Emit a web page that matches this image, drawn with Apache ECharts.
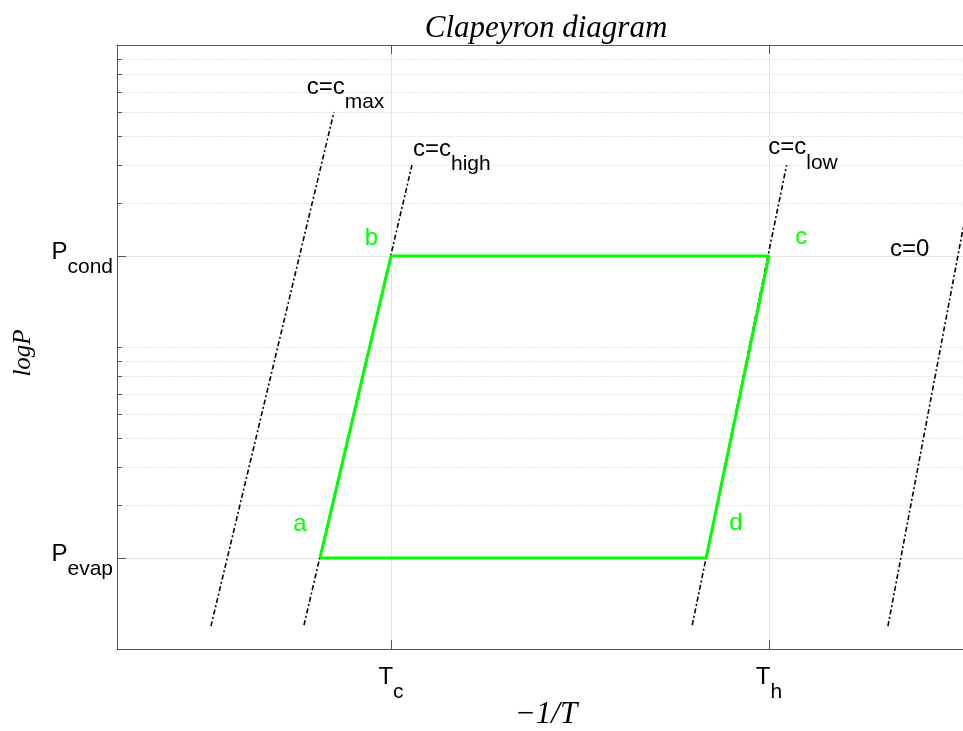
<!DOCTYPE html>
<html>
<head>
<meta charset="utf-8">
<script src="https://cdn.jsdelivr.net/npm/echarts@6/dist/echarts.min.js"></script>
<style>
html,body{margin:0;padding:0;background:#fff;}
#chart{width:963px;height:731px;}
</style>
</head>
<body>
<div id="chart"></div>
<script>
// ---- data ----
const xRange = [0, 9.85];
const yRange = [1, 100];
const xTickValues = [3.19, 7.59];
const xTickLabels = [['T', 'c'], ['T', 'h']];
const yTickValues = [2, 20];
const yTickLabels = [['P', 'evap'], ['P', 'cond']];
const minorGridValues = [3, 4, 5, 6, 7, 8, 9, 10, 30, 40, 50, 60, 70, 80, 90];

const cycleX = [2.363, 3.19, 7.59, 6.859, 2.363];
const cycleY = [2, 20, 20, 2, 2];

const cMaxX = [1.094, 2.526];   const cMaxY = [1.19, 60];
const cHighX = [2.177, 3.434];  const cHighY = [1.20, 40];
const cLowX = [6.698, 7.796];   const cLowY = [1.20, 40];
const cZeroX = [8.976, 9.99];   const cZeroY = [1.19, 40];

const curveLabelText = [['c=c', 'max'], ['c=c', 'high'], ['c=c', 'low'], ['c=0', '']];
const curveLabelX = [2.208, 3.446, 7.582, 8.999];
const curveLabelY = [79.6, 49.6, 50.2, 23.13];

const pointNames = ['a', 'b', 'c', 'd'];
const pointLabelX = [2.130, 2.963, 7.968, 7.206];
const pointLabelY = [2.594, 22.96, 23.13, 2.604];

// ---- styles ----
const SANS = 'Liberation Sans, Arial, sans-serif';
const SERIF = 'Liberation Serif, Times New Roman, serif';
const richSub = {
  b: { fontSize: 24, fontFamily: SANS, color: '#000', lineHeight: 28, verticalAlign: 'top' },
  s: { fontSize: 21, fontFamily: SANS, color: '#000', lineHeight: 38, verticalAlign: 'bottom' }
};
const richSubZr = {
  b: { fontSize: 24, fontFamily: SANS, fill: '#000', lineHeight: 28, verticalAlign: 'top' },
  s: { fontSize: 21, fontFamily: SANS, fill: '#000', lineHeight: 38, verticalAlign: 'bottom' }
};
const zip = (xs, ys) => xs.map((x, i) => [x, ys[i]]);
const dashDot = { color: '#000', width: 1.6, type: [5, 2.5, 2, 2.5] };

function lineSeries(xs, ys, style, z) {
  return {
    type: 'line', data: zip(xs, ys), symbol: 'none', silent: true,
    lineStyle: style, z: z, animation: false
  };
}

const chart = echarts.init(document.getElementById('chart'), null, { renderer: 'canvas' });

const option = {
  backgroundColor: '#fff',
  animation: false,
  grid: { left: 117, top: 45, right: 0, height: 604, containLabel: false },
  xAxis: [
    {
      type: 'value', min: xRange[0], max: xRange[1], position: 'bottom',
      axisLine: { show: true, lineStyle: { color: '#555', width: 1 } },
      axisTick: { show: true, inside: true, length: 9, customValues: xTickValues, lineStyle: { color: '#555' } },
      axisLabel: {
        show: true, customValues: xTickValues, margin: 16,
        formatter: (v) => {
          let i = -1;
          xTickValues.forEach((t, k) => { if (Math.abs(t - v) < 1e-6) i = k; });
          const t = i >= 0 ? xTickLabels[i] : ['', ''];
          return '{b|' + t[0] + '}{s|' + t[1] + '}';
        },
        rich: richSub
      },
      splitLine: { show: true, lineStyle: { color: '#e3e3e3', width: 1 } }
    },
    {
      type: 'value', min: xRange[0], max: xRange[1], position: 'top',
      axisLine: { show: true, lineStyle: { color: '#555', width: 1 } },
      axisTick: { show: true, inside: true, length: 9, customValues: xTickValues, lineStyle: { color: '#555' } },
      axisLabel: { show: false },
      splitLine: { show: false }
    }
  ],
  yAxis: [
    {
      type: 'log', logBase: 10, min: yRange[0], max: yRange[1], position: 'left',
      axisLine: { show: true, lineStyle: { color: '#555', width: 1 } },
      axisTick: { show: true, inside: true, length: 9, customValues: yTickValues, lineStyle: { color: '#555' } },
      axisLabel: {
        show: true, customValues: yTickValues, margin: 4, padding: [6, 0, 0, 0],
        formatter: (v) => {
          let i = -1;
          yTickValues.forEach((t, k) => { if (Math.abs(t - v) < 1e-6 * t) i = k; });
          const t = i >= 0 ? yTickLabels[i] : ['', ''];
          return '{b|' + t[0] + '}{s|' + t[1] + '}';
        },
        rich: richSub
      },
      splitLine: { show: true, lineStyle: { color: '#e3e3e3', width: 1 } }
    },
    {
      type: 'log', logBase: 10, min: yRange[0], max: yRange[1], position: 'left',
      axisLine: { show: false },
      axisTick: { show: true, inside: true, length: 5, customValues: minorGridValues, lineStyle: { color: '#555' } },
      axisLabel: { show: false },
      splitLine: { show: true, lineStyle: { color: '#e6e6e6', width: 1, type: [2, 1] } }
    }
  ],
  graphic: [
    { type: 'text', x: 546, y: 29, style: { text: 'Clapeyron diagram', font: 'italic 31px ' + SERIF, fill: '#000', textAlign: 'center', textVerticalAlign: 'middle' } },
    { type: 'text', x: 546, y: 715, style: { text: '\u22121/T', font: 'italic 31px ' + SERIF, fill: '#000', textAlign: 'center', textVerticalAlign: 'middle' } },
    { type: 'text', x: 23, y: 353, rotation: Math.PI / 2, style: { text: 'logP', font: 'italic 25px ' + SERIF, fill: '#000', textAlign: 'center', textVerticalAlign: 'middle' } }
  ],
  series: [
    lineSeries(cMaxX, cMaxY, dashDot, 2),
    lineSeries(cHighX, cHighY, dashDot, 2),
    lineSeries(cLowX, cLowY, dashDot, 2),
    lineSeries(cZeroX, cZeroY, dashDot, 2),
    lineSeries(cycleX, cycleY, { color: '#00ff00', width: 3 }, 3),
    {
      type: 'custom', coordinateSystem: 'cartesian2d', silent: true, z: 4,
      data: zip(curveLabelX, curveLabelY),
      renderItem: (params, api) => {
        const p = api.coord([api.value(0), api.value(1)]);
        const t = curveLabelText[params.dataIndex];
        return {
          type: 'text', x: p[0], y: p[1],
          style: {
            text: '{b|' + t[0] + '}' + (t[1] ? '{s|' + t[1] + '}' : ''),
            rich: richSubZr, fill: '#000', align: 'left', verticalAlign: 'top'
          }
        };
      }
    },
    {
      type: 'custom', coordinateSystem: 'cartesian2d', silent: true, z: 4,
      data: zip(pointLabelX, pointLabelY),
      renderItem: (params, api) => {
        const p = api.coord([api.value(0), api.value(1)]);
        return {
          type: 'text', x: p[0], y: p[1],
          style: {
            text: pointNames[params.dataIndex], fill: '#00ff00',
            fontSize: 24, fontFamily: SANS, align: 'center', verticalAlign: 'middle'
          }
        };
      }
    }
  ]
};
chart.setOption(option);
</script>
</body>
</html>
